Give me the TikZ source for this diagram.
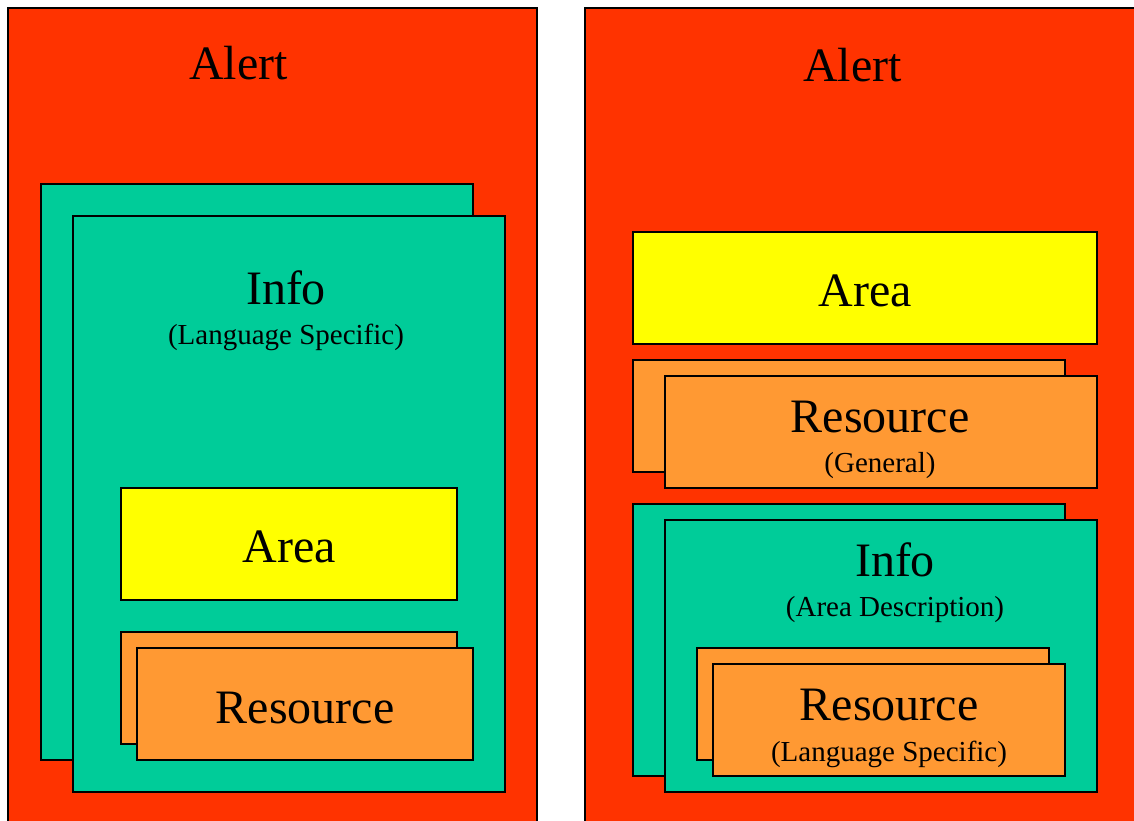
\documentclass[tikz,border=0pt]{standalone}
\usepackage{fontspec}
\setmainfont{Liberation Serif}
\definecolor{alertred}{HTML}{FF3300}
\definecolor{infoteal}{HTML}{00CC99}
\definecolor{areayellow}{HTML}{FFFF00}
\definecolor{resorange}{HTML}{FF9933}
\tikzset{
  box/.style={draw=black, line width=1.9pt, inner sep=0pt, outer sep=0pt, rectangle},
  alertbox/.style={box, fill=alertred},
  infobox/.style={box, fill=infoteal},
  areabox/.style={box, fill=areayellow},
  resbox/.style={box, fill=resorange},
  bigtext/.style={anchor=base, inner sep=0pt, font=\fontsize{48}{50}\selectfont},
  smalltext/.style={anchor=base, inner sep=0pt, font=\fontsize{29}{31}\selectfont},
}
\begin{document}
\begin{tikzpicture}[x=1pt,y=-1pt]
\useasboundingbox (0,0) rectangle (1134,821);
\clip (0,0) rectangle (1134,821);
\fill[white] (0,0) rectangle (1134,821);
% ---------- left panel ----------
\node[alertbox, minimum width=529pt, minimum height=832pt] (lalert) at (272.5,424) {};
\node[bigtext] (lalertlbl) at (238.5,80) {Alert};
\node[infobox, minimum width=432pt, minimum height=576pt] (linfoback) at (257,472) {};
\node[infobox, minimum width=432pt, minimum height=576pt] (linfo) at (289,504) {};
\node[bigtext] (linfolbl) at (286,304) {Info};
\node[smalltext] (linfosub) at (286,344) {(Language Specific)};
\node[areabox, minimum width=336pt, minimum height=112pt] (larea) at (289,544) {};
\node[bigtext] (larealbl) at (289,562) {Area};
\node[resbox, minimum width=336pt, minimum height=112pt] (lresback) at (289,688) {};
\node[resbox, minimum width=336pt, minimum height=112pt] (lres) at (305,704) {};
\node[bigtext] (lreslbl) at (305,723) {Resource};
% ---------- right panel ----------
\node[alertbox, minimum width=565pt, minimum height=832pt] (ralert) at (867.5,424) {};
\node[bigtext] (ralertlbl) at (852.5,82) {Alert};
\node[areabox, minimum width=464pt, minimum height=112pt] (rarea) at (865,288) {};
\node[bigtext] (rarealbl) at (865,306) {Area};
\node[resbox, minimum width=432pt, minimum height=112pt] (rresback) at (849,416) {};
\node[resbox, minimum width=432pt, minimum height=112pt] (rres) at (881,432) {};
\node[bigtext] (rreslbl) at (880,432) {Resource};
\node[smalltext] (rressub) at (880,472) {(General)};
\node[infobox, minimum width=432pt, minimum height=272pt] (rinfoback) at (849,640) {};
\node[infobox, minimum width=432pt, minimum height=272pt] (rinfo) at (881,656) {};
\node[bigtext] (rinfolbl) at (895,576) {Info};
\node[smalltext] (rinfosub) at (895,616) {(Area Description)};
\node[resbox, minimum width=352pt, minimum height=112pt] (rres2back) at (873,704) {};
\node[resbox, minimum width=352pt, minimum height=112pt] (rres2) at (889,720) {};
\node[bigtext] (rres2lbl) at (889,720) {Resource};
\node[smalltext] (rres2sub) at (889,761) {(Language Specific)};
\end{tikzpicture}
\end{document}
